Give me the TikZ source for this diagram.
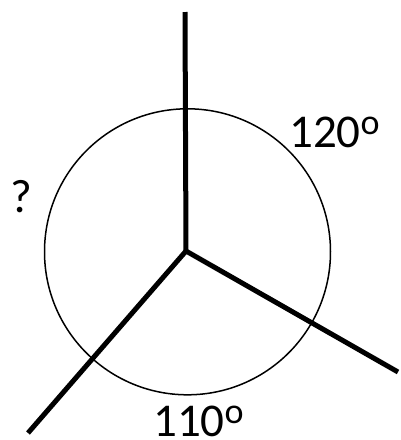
\documentclass[tikz,border=0pt]{standalone}
\usepackage{fontspec}
\setmainfont{Carlito}
\newcommand{\dego}{\raisebox{12.5pt}{\fontsize{36}{36}\selectfont o}}
\begin{document}
\begin{tikzpicture}[x=1pt,y=-1pt,
  bond/.style={line width=5pt},
  ring/.style={line width=1.5pt},
  lbl/.style={font=\fontsize{47}{50}\selectfont, inner sep=0pt, anchor=base west}]
\useasboundingbox (0,0) rectangle (400,440);
\coordinate (c) at (186,251);
\coordinate (top) at (185,12);
\coordinate (right) at (398,372);
\coordinate (left) at (28,433);
\node[ring, draw, circle, minimum size=286pt, inner sep=0pt] (circ) at (187.5,251.8) {};
\draw[bond] (top) -- (c);
\draw[bond, line join=miter] (right) -- (c) -- (left);
\node[lbl] (a120) at (289,147) {120\dego};
\node[lbl] (a110) at (153,436) {110\dego};
\node[lbl] (q) at (10,212) {?};
\end{tikzpicture}
\end{document}
